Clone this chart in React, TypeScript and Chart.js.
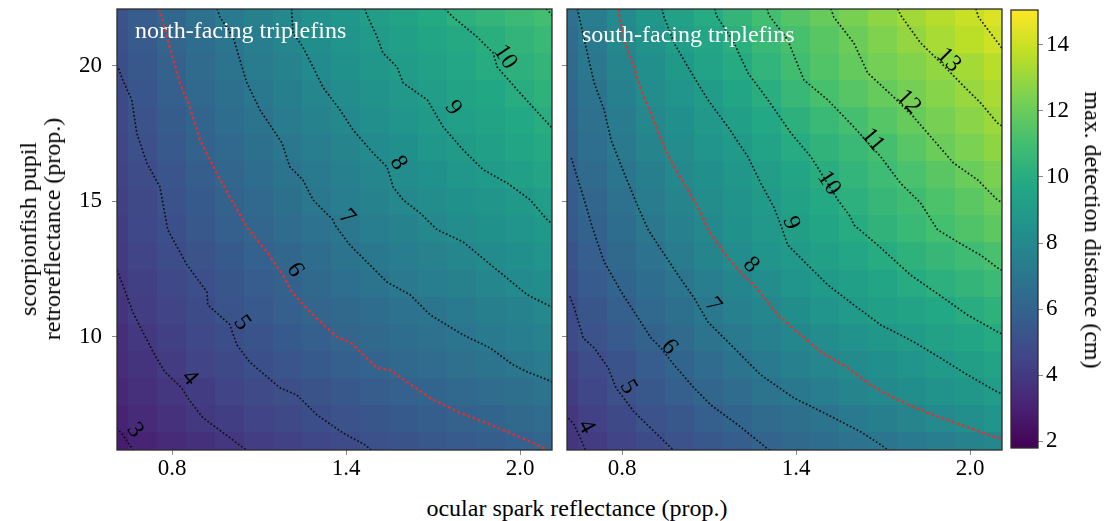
import React, { useEffect, useRef } from 'react';
import { Chart, registerables } from 'chart.js';

Chart.register(...registerables);

const FONT = '"Liberation Serif", "Times New Roman", serif';

// ---- grid of the heat maps (cell centres) ----
const xCenters = [0.6, 0.7, 0.8, 0.9, 1.0, 1.1, 1.2, 1.3, 1.4, 1.5, 1.6, 1.7, 1.8, 1.9, 2.0, 2.1];
const yCenters = [6, 7, 8, 9, 10, 11, 12, 13, 14, 15, 16, 17, 18, 19, 20, 21, 22];

// max. detection distance (cm), rows = yCenters (bottom to top), columns = xCenters
const northValues = [
  [2.84, 3.11, 3.37, 3.64, 3.91, 4.15, 4.38, 4.61, 4.84, 5.05, 5.22, 5.39, 5.56, 5.73, 5.90, 6.07],
  [3.06, 3.37, 3.67, 3.98, 4.22, 4.47, 4.71, 4.96, 5.16, 5.35, 5.54, 5.73, 5.92, 6.11, 6.30, 6.49],
  [3.29, 3.59, 3.88, 4.17, 4.45, 4.72, 5.00, 5.22, 5.44, 5.66, 5.88, 6.08, 6.26, 6.45, 6.63, 6.82],
  [3.45, 3.80, 4.13, 4.44, 4.76, 5.06, 5.30, 5.55, 5.80, 6.04, 6.24, 6.44, 6.65, 6.85, 7.05, 7.25],
  [3.60, 3.97, 4.30, 4.63, 4.96, 5.24, 5.53, 5.81, 6.07, 6.29, 6.52, 6.74, 6.96, 7.18, 7.40, 7.62],
  [3.75, 4.14, 4.50, 4.85, 5.18, 5.49, 5.79, 6.07, 6.31, 6.54, 6.77, 7.00, 7.23, 7.47, 7.70, 7.93],
  [3.90, 4.27, 4.64, 5.01, 5.34, 5.68, 6.01, 6.30, 6.58, 6.87, 7.13, 7.36, 7.59, 7.83, 8.06, 8.29],
  [4.08, 4.47, 4.87, 5.22, 5.55, 5.88, 6.21, 6.52, 6.84, 7.12, 7.37, 7.61, 7.85, 8.10, 8.36, 8.62],
  [4.17, 4.64, 5.06, 5.42, 5.78, 6.12, 6.44, 6.76, 7.07, 7.37, 7.67, 7.97, 8.21, 8.43, 8.66, 8.89],
  [4.23, 4.69, 5.14, 5.55, 5.97, 6.33, 6.68, 7.03, 7.35, 7.67, 7.95, 8.20, 8.45, 8.68, 8.91, 9.14],
  [4.35, 4.83, 5.30, 5.75, 6.16, 6.53, 6.90, 7.22, 7.54, 7.85, 8.15, 8.43, 8.72, 9.00, 9.27, 9.53],
  [4.56, 5.03, 5.50, 5.96, 6.33, 6.70, 7.05, 7.40, 7.74, 8.08, 8.39, 8.70, 9.01, 9.28, 9.55, 9.81],
  [4.65, 5.14, 5.63, 6.10, 6.50, 6.90, 7.27, 7.63, 8.00, 8.31, 8.62, 8.94, 9.22, 9.49, 9.77, 10.04],
  [4.74, 5.26, 5.79, 6.25, 6.68, 7.10, 7.48, 7.87, 8.21, 8.53, 8.85, 9.16, 9.44, 9.72, 10.00, 10.27],
  [4.95, 5.45, 5.95, 6.39, 6.83, 7.25, 7.66, 8.06, 8.40, 8.75, 9.08, 9.37, 9.66, 9.94, 10.21, 10.47],
  [5.05, 5.57, 6.07, 6.51, 6.95, 7.40, 7.86, 8.25, 8.61, 8.97, 9.26, 9.55, 9.83, 10.12, 10.41, 10.69],
  [5.16, 5.68, 6.21, 6.72, 7.18, 7.57, 7.96, 8.35, 8.74, 9.12, 9.48, 9.84, 10.16, 10.45, 10.74, 11.03],
];

const southValues = [
  [3.77, 4.11, 4.45, 4.80, 5.12, 5.43, 5.73, 6.03, 6.28, 6.52, 6.77, 7.01, 7.22, 7.43, 7.64, 7.85],
  [3.90, 4.31, 4.73, 5.12, 5.45, 5.78, 6.09, 6.36, 6.64, 6.91, 7.19, 7.47, 7.75, 8.04, 8.32, 8.60],
  [4.18, 4.62, 5.05, 5.42, 5.78, 6.14, 6.47, 6.81, 7.12, 7.42, 7.72, 8.01, 8.27, 8.52, 8.77, 9.03],
  [4.36, 4.82, 5.24, 5.67, 6.09, 6.48, 6.87, 7.21, 7.52, 7.83, 8.12, 8.39, 8.65, 8.92, 9.18, 9.44],
  [4.72, 5.15, 5.58, 6.01, 6.41, 6.81, 7.19, 7.55, 7.91, 8.22, 8.50, 8.79, 9.07, 9.34, 9.60, 9.87],
  [4.81, 5.32, 5.82, 6.27, 6.69, 7.11, 7.51, 7.91, 8.26, 8.59, 8.93, 9.21, 9.47, 9.73, 9.99, 10.26],
  [5.00, 5.56, 6.09, 6.52, 6.95, 7.38, 7.80, 8.21, 8.60, 8.98, 9.29, 9.60, 9.90, 10.19, 10.47, 10.75],
  [5.19, 5.80, 6.31, 6.78, 7.25, 7.72, 8.16, 8.57, 8.97, 9.29, 9.61, 9.93, 10.25, 10.56, 10.87, 11.18],
  [5.47, 6.00, 6.54, 7.06, 7.55, 8.02, 8.41, 8.80, 9.19, 9.57, 9.95, 10.32, 10.69, 11.05, 11.36, 11.68],
  [5.60, 6.17, 6.74, 7.26, 7.76, 8.19, 8.56, 8.94, 9.36, 9.79, 10.19, 10.55, 10.92, 11.28, 11.64, 12.00],
  [5.78, 6.35, 6.95, 7.49, 8.02, 8.39, 8.77, 9.16, 9.59, 10.02, 10.43, 10.84, 11.23, 11.62, 12.00, 12.38],
  [5.94, 6.56, 7.16, 7.74, 8.21, 8.59, 8.97, 9.43, 9.91, 10.32, 10.70, 11.11, 11.57, 12.02, 12.41, 12.80],
  [6.06, 6.71, 7.33, 7.94, 8.38, 8.80, 9.26, 9.75, 10.22, 10.67, 11.10, 11.52, 11.94, 12.32, 12.69, 13.05],
  [6.20, 6.89, 7.55, 8.14, 8.58, 9.04, 9.56, 10.08, 10.64, 11.14, 11.53, 11.92, 12.28, 12.64, 13.00, 13.33],
  [6.36, 7.07, 7.74, 8.33, 8.87, 9.38, 9.89, 10.42, 10.96, 11.42, 11.88, 12.24, 12.56, 12.88, 13.24, 13.62],
  [6.47, 7.23, 7.96, 8.56, 9.13, 9.63, 10.13, 10.65, 11.15, 11.60, 12.06, 12.49, 12.92, 13.31, 13.68, 14.06],
  [6.65, 7.37, 8.09, 8.75, 9.35, 9.91, 10.46, 11.00, 11.47, 11.93, 12.36, 12.79, 13.19, 13.58, 13.96, 14.33],
];

// ---- contour lines: [ocular spark reflectance, pupil retroreflectance] ----
const northLevels = [3, 4, 5, 6, 7, 8, 9, 10, 11];
const northPaths = [
  [[0.60, 6.75], [0.630, 6.39], [0.667, 5.80]],
  [[0.605, 12.6], [0.630, 11.92], [0.664, 10.92], [0.734, 9.45], [0.775, 8.71], [0.833, 8.12], [0.854, 7.75], [0.906, 7.02], [1.027, 6.06], [1.06, 5.80]],
  [[0.615, 19.9], [0.630, 19.47], [0.661, 18.74], [0.678, 17.52], [0.713, 16.41], [0.758, 15.53], [0.785, 13.95], [0.851, 12.66], [0.920, 11.66], [0.923, 11.18], [0.999, 10.45], [1.023, 9.71], [1.067, 9.08], [1.172, 8.12], [1.230, 7.86], [1.299, 7.13], [1.389, 6.46], [1.465, 6.02], [1.49, 5.80]],
  [[0.755, 22.1], [0.764, 21.79], [0.785, 20.95], [0.827, 19.36], [0.861, 18.48], [0.896, 17.26], [0.954, 16.04], [0.999, 15.16], [1.058, 14.05], [1.127, 13.13], [1.182, 12.28], [1.213, 11.66], [1.275, 10.92], [1.368, 10.0], [1.413, 9.82], [1.506, 8.86], [1.551, 8.78], [1.689, 7.75], [1.793, 7.20], [1.873, 6.87], [1.966, 6.46], [2.059, 6.02], [2.09, 5.85]],
  [[0.955, 22.1], [0.965, 21.79], [1.010, 21.06], [1.034, 20.21], [1.058, 19.36], [1.103, 18.37], [1.179, 17.15], [1.206, 16.27], [1.251, 15.79], [1.286, 15.05], [1.355, 14.31], [1.362, 14.12], [1.413, 13.39], [1.541, 12.02], [1.621, 11.55], [1.690, 10.81], [1.804, 10.07], [1.897, 9.59], [1.976, 8.97], [2.025, 8.71], [2.094, 8.42], [2.12, 8.30]],
  [[1.212, 22.1], [1.213, 21.87], [1.217, 21.21], [1.251, 20.69], [1.286, 19.95], [1.320, 19.21], [1.379, 18.37], [1.424, 17.63], [1.493, 16.78], [1.541, 16.27], [1.562, 15.53], [1.597, 15.05], [1.655, 14.57], [1.714, 13.95], [1.804, 13.50], [1.886, 12.77], [1.942, 12.28], [2.025, 11.55], [2.094, 11.18], [2.12, 11.05]],
  [[1.465, 22.1], [1.472, 21.87], [1.507, 21.06], [1.527, 20.47], [1.576, 19.95], [1.597, 19.36], [1.680, 18.74], [1.735, 17.74], [1.804, 16.89], [1.873, 16.16], [1.956, 15.67], [2.035, 15.05], [2.094, 14.31], [2.12, 14.10]],
  [[1.74, 22.1], [1.769, 21.79], [1.852, 21.06], [1.907, 20.47], [1.921, 19.95], [2.000, 18.99], [2.094, 17.89], [2.12, 17.60]],
  [[2.09, 22.1], [2.12, 21.75]],
];
const northLabelLevels = [3, 4, 5, 6, 7, 8, 9, 10];
const northLabelX = [0.672, 0.861, 1.041, 1.224, 1.403, 1.580, 1.769, 1.948];
const northLabelY = [6.56, 8.49, 10.52, 12.47, 14.42, 16.41, 18.44, 20.32];

const southLevels = [4, 5, 6, 7, 8, 9, 10, 11, 12, 13, 14];
const southPaths = [
  [[0.615, 7.0], [0.635, 6.76], [0.666, 6.02], [0.675, 5.80]],
  [[0.62, 11.5], [0.635, 11.07], [0.666, 9.96], [0.704, 9.59], [0.752, 8.86], [0.779, 8.12], [0.841, 7.24], [0.958, 6.02], [0.98, 5.80]],
  [[0.625, 16.6], [0.635, 16.23], [0.659, 15.42], [0.700, 13.95], [0.738, 12.77], [0.797, 11.66], [0.855, 10.70], [0.900, 9.96], [0.934, 9.59], [0.979, 8.97], [1.048, 8.12], [1.106, 7.49], [1.199, 6.76], [1.285, 6.02], [1.31, 5.80]],
  [[0.646, 22.1], [0.649, 21.94], [0.683, 20.32], [0.704, 19.36], [0.738, 18.37], [0.762, 17.26], [0.807, 16.04], [0.855, 14.79], [0.890, 13.95], [0.924, 13.39], [0.993, 12.28], [1.048, 11.44], [1.096, 10.55], [1.186, 9.59], [1.278, 8.60], [1.392, 7.75], [1.509, 7.13], [1.623, 6.50], [1.692, 6.02], [1.72, 5.80]],
  [[0.788, 22.1], [0.790, 21.87], [0.807, 20.95], [0.841, 19.95], [0.865, 19.10], [0.900, 18.26], [0.934, 17.26], [0.979, 16.27], [1.027, 15.42], [1.072, 14.57], [1.096, 13.95], [1.165, 12.91], [1.217, 12.28], [1.254, 11.92], [1.337, 10.81], [1.416, 10.07], [1.485, 9.45], [1.578, 8.86], [1.657, 8.23], [1.736, 7.75], [1.853, 7.20], [1.967, 6.76], [2.094, 6.28], [2.12, 6.20]],
  [[0.937, 22.1], [0.945, 21.79], [0.979, 20.84], [1.027, 19.95], [1.096, 18.74], [1.165, 17.74], [1.234, 16.64], [1.278, 15.67], [1.323, 14.79], [1.347, 14.13], [1.371, 13.39], [1.440, 12.65], [1.509, 11.92], [1.599, 11.18], [1.692, 10.44], [1.805, 9.82], [1.898, 9.22], [1.991, 8.60], [2.094, 7.97], [2.12, 7.85]],
  [[1.12, 22.1], [1.124, 21.87], [1.186, 20.84], [1.234, 19.73], [1.303, 18.74], [1.382, 17.52], [1.451, 16.64], [1.544, 15.05], [1.588, 14.42], [1.599, 14.13], [1.681, 13.39], [1.795, 12.28], [1.908, 11.44], [1.991, 10.81], [2.094, 10.19], [2.12, 10.05]],
  [[1.30, 22.1], [1.306, 21.87], [1.371, 20.95], [1.427, 19.47], [1.509, 18.74], [1.599, 17.74], [1.692, 16.64], [1.760, 15.67], [1.829, 14.94], [1.888, 13.95], [1.957, 13.50], [2.036, 13.02], [2.094, 12.55], [2.12, 12.40]],
  [[1.52, 22.1], [1.530, 21.79], [1.599, 20.84], [1.647, 19.73], [1.736, 18.85], [1.805, 18.11], [1.874, 17.26], [1.943, 16.41], [2.026, 15.79], [2.094, 15.05], [2.12, 14.90]],
  [[1.75, 22.1], [1.760, 21.87], [1.829, 20.84], [1.900, 20.10], [1.967, 19.36], [2.036, 18.63], [2.094, 17.89], [2.12, 17.70]],
  [[2.02, 22.1], [2.029, 21.79], [2.094, 20.87], [2.12, 20.50]],
];
const southLabelLevels = [4, 5, 6, 7, 8, 9, 10, 11, 12, 13];
const southLabelX = [0.676, 0.821, 0.962, 1.113, 1.244, 1.382, 1.513, 1.664, 1.788, 1.926];
const southLabelY = [6.69, 8.15, 9.63, 11.18, 12.65, 14.20, 15.67, 17.26, 18.66, 20.21];

// ---- axes ----
const xTicks = [0.8, 1.4, 2.0];
const yTicks = [10, 15, 20];
const colorTicks = [2, 4, 6, 8, 10, 12, 14];
const xRange = [0.61, 2.11];
const yRange = [5.83, 22.09];
const colorRange = [1.8, 15.05];

const VIRIDIS = ['#440154', '#482475', '#414487', '#355f8d', '#2a788e', '#21918c', '#22a884', '#44bf70', '#7ad151', '#bddf26', '#fde725'];

function hexToRgb(h: string) {
  return [parseInt(h.slice(1, 3), 16), parseInt(h.slice(3, 5), 16), parseInt(h.slice(5, 7), 16)];
}
const VIRIDIS_RGB = VIRIDIS.map(hexToRgb);

function viridis(v: number) {
  let t = (v - colorRange[0]) / (colorRange[1] - colorRange[0]);
  t = Math.max(0, Math.min(1, t));
  const s = t * (VIRIDIS_RGB.length - 1);
  const i = Math.min(Math.floor(s), VIRIDIS_RGB.length - 2);
  const f = s - i;
  const a = VIRIDIS_RGB[i], b = VIRIDIS_RGB[i + 1];
  const c = a.map((av, k) => Math.round(av + (b[k] - av) * f));
  return `rgb(${c[0]},${c[1]},${c[2]})`;
}

function makeHeatmapPlugin(values: number[][]) {
  return {
    id: 'heatmap',
    beforeDatasetsDraw(chart: any) {
      const { ctx, chartArea } = chart;
      const xs = chart.scales.x, ys = chart.scales.y;
      const hx = (xCenters[1] - xCenters[0]) / 2;
      const hy = (yCenters[1] - yCenters[0]) / 2;
      ctx.save();
      ctx.beginPath();
      ctx.rect(chartArea.left, chartArea.top, chartArea.right - chartArea.left, chartArea.bottom - chartArea.top);
      ctx.clip();
      for (let j = 0; j < yCenters.length; j++) {
        for (let i = 0; i < xCenters.length; i++) {
          const x0 = Math.floor(xs.getPixelForValue(xCenters[i] - hx));
          const x1 = Math.ceil(xs.getPixelForValue(xCenters[i] + hx));
          const y0 = Math.floor(ys.getPixelForValue(yCenters[j] + hy));
          const y1 = Math.ceil(ys.getPixelForValue(yCenters[j] - hy));
          ctx.fillStyle = viridis(values[j][i]);
          ctx.fillRect(x0, y0, x1 - x0, y1 - y0);
        }
      }
      ctx.restore();
    },
  };
}

function labelAngle(path: number[][], lx: number, ly: number, xs: any, ys: any) {
  const px = xs.getPixelForValue(lx), py = ys.getPixelForValue(ly);
  let best = Infinity, bi = 0;
  const pts = path.map(([x, y]) => [xs.getPixelForValue(x), ys.getPixelForValue(y)]);
  pts.forEach(([x, y], i) => {
    const d = (x - px) ** 2 + (y - py) ** 2;
    if (d < best) { best = d; bi = i; }
  });
  const a = pts[Math.max(0, bi - 1)], b = pts[Math.min(pts.length - 1, bi + 1)];
  let ang = Math.atan2(b[1] - a[1], b[0] - a[0]);
  if (ang > Math.PI / 2) ang -= Math.PI;
  if (ang < -Math.PI / 2) ang += Math.PI;
  return ang;
}

function makeOverlayPlugin(title: string, tx: number, ty: number, levels: number[], paths: number[][][], labLevels: number[], labX: number[], labY: number[]) {
  return {
    id: 'overlay',
    afterDatasetsDraw(chart: any) {
      const { ctx, chartArea } = chart;
      const xs = chart.scales.x, ys = chart.scales.y;
      ctx.save();
      // contour labels
      ctx.fillStyle = '#000';
      ctx.font = `24px ${FONT}`;
      ctx.textAlign = 'center';
      ctx.textBaseline = 'middle';
      labLevels.forEach((lev, k) => {
        const path = paths[levels.indexOf(lev)];
        const ang = labelAngle(path, labX[k], labY[k], xs, ys);
        ctx.save();
        ctx.translate(xs.getPixelForValue(labX[k]), ys.getPixelForValue(labY[k]));
        ctx.rotate(ang);
        ctx.fillText(String(lev), 0, 0);
        ctx.restore();
      });
      // panel title
      ctx.fillStyle = '#ffffff';
      ctx.font = `24px ${FONT}`;
      ctx.textAlign = 'left';
      ctx.textBaseline = 'alphabetic';
      ctx.fillText(title, chartArea.left + tx, chartArea.top + ty);
      // frame
      ctx.strokeStyle = '#2b2b2b';
      ctx.lineWidth = 1.3;
      ctx.strokeRect(chartArea.left, chartArea.top, chartArea.right - chartArea.left, chartArea.bottom - chartArea.top);
      ctx.restore();
    },
  };
}

const tickFont = { family: FONT, size: 23 };
const tickGrid = { display: true, drawOnChartArea: false, drawTicks: true, tickLength: 5, color: '#8a8a8a', lineWidth: 1 };

function noPad(s: any) {
  s.paddingTop = 0;
  s.paddingBottom = 0;
  s.paddingLeft = 0;
  s.paddingRight = 0;
}

function panelConfig(opts: {
  values: number[][]; levels: number[]; paths: number[][][]; red: number;
  labLevels: number[]; labX: number[]; labY: number[];
  title: string; tx: number; ty: number; showY: boolean; yWidth: number; padRight: number;
}) {
  const datasets = opts.paths.map((p, k) => {
    const isRed = opts.levels[k] === opts.red;
    return {
      data: p.map(([x, y]) => ({ x, y })),
      showLine: true,
      borderColor: isRed ? '#ee2b2b' : 'rgba(10,10,10,0.9)',
      borderWidth: isRed ? 2.3 : 1.7,
      borderDash: isRed ? [2.6, 2.8] : [1.7, 2.1],
      pointRadius: 0,
      pointHoverRadius: 0,
      tension: 0,
      fill: false,
    };
  });
  return {
    type: 'scatter' as const,
    data: { datasets },
    plugins: [
      makeHeatmapPlugin(opts.values),
      makeOverlayPlugin(opts.title, opts.tx, opts.ty, opts.levels, opts.paths, opts.labLevels, opts.labX, opts.labY),
    ],
    options: {
      animation: false as const,
      responsive: false,
      devicePixelRatio: 1,
      events: [],
      layout: { padding: { left: 0, top: 9, right: opts.padRight, bottom: 0 } },
      plugins: { legend: { display: false }, tooltip: { enabled: false } },
      scales: {
        x: {
          type: 'linear' as const,
          min: xRange[0], max: xRange[1],
          afterBuildTicks: (s: any) => { s.ticks = xTicks.map((v) => ({ value: v })); },
          afterFit: (s: any) => { s.height = 30; noPad(s); },
          ticks: { callback: (v: any) => Number(v).toFixed(1), font: tickFont, color: '#000', padding: 0, maxRotation: 0, autoSkip: false },
          grid: tickGrid,
          border: { display: false },
        },
        y: {
          type: 'linear' as const,
          min: yRange[0], max: yRange[1],
          afterBuildTicks: (s: any) => { s.ticks = yTicks.map((v) => ({ value: v })); },
          afterFit: (s: any) => { s.width = opts.yWidth; noPad(s); },
          ticks: { display: opts.showY, callback: (v: any) => String(v), font: tickFont, color: '#000', padding: 10, autoSkip: false },
          grid: tickGrid,
          border: { display: false },
        },
      },
    },
  };
}

function colorbarConfig() {
  const gradientPlugin = {
    id: 'colorbar',
    beforeDatasetsDraw(chart: any) {
      const { ctx, chartArea } = chart;
      const ys = chart.scales.y;
      const yb = ys.getPixelForValue(colorRange[0]);
      const yt = ys.getPixelForValue(colorRange[1]);
      const g = ctx.createLinearGradient(0, yb, 0, yt);
      VIRIDIS.forEach((c, i) => g.addColorStop(i / (VIRIDIS.length - 1), c));
      ctx.save();
      ctx.fillStyle = g;
      ctx.fillRect(chartArea.left, yt, chartArea.right - chartArea.left, yb - yt);
      ctx.strokeStyle = '#2b2b2b';
      ctx.lineWidth = 1.3;
      ctx.strokeRect(chartArea.left, chartArea.top, chartArea.right - chartArea.left, chartArea.bottom - chartArea.top);
      ctx.restore();
    },
  };
  return {
    type: 'scatter' as const,
    data: { datasets: [] },
    plugins: [gradientPlugin],
    options: {
      animation: false as const,
      responsive: false,
      devicePixelRatio: 1,
      events: [],
      layout: { padding: { left: 6, top: 10, right: 0, bottom: 32 } },
      plugins: { legend: { display: false }, tooltip: { enabled: false } },
      scales: {
        x: { type: 'linear' as const, display: false, min: 0, max: 1 },
        y: {
          type: 'linear' as const,
          position: 'right' as const,
          min: colorRange[0], max: colorRange[1],
          afterBuildTicks: (s: any) => { s.ticks = colorTicks.map((v) => ({ value: v })); },
          afterFit: (s: any) => { s.width = 71; noPad(s); },
          ticks: { callback: (v: any) => String(v), font: tickFont, color: '#000', padding: 3, autoSkip: false },
          grid: tickGrid,
          border: { display: false },
        },
      },
    },
  };
}

export default function App() {
  const leftRef = useRef<HTMLCanvasElement>(null);
  const rightRef = useRef<HTMLCanvasElement>(null);
  const cbRef = useRef<HTMLCanvasElement>(null);

  useEffect(() => {
    const charts = [
      new Chart(leftRef.current as HTMLCanvasElement, panelConfig({
        values: northValues, levels: northLevels, paths: northPaths, red: 6,
        labLevels: northLabelLevels, labX: northLabelX, labY: northLabelY,
        title: 'north-facing triplefins', tx: 18, ty: 29, showY: true, yWidth: 117, padRight: 8,
      }) as any),
      new Chart(rightRef.current as HTMLCanvasElement, panelConfig({
        values: southValues, levels: southLevels, paths: southPaths, red: 8,
        labLevels: southLabelLevels, labX: southLabelX, labY: southLabelY,
        title: 'south-facing triplefins', tx: 15, ty: 33, showY: false, yWidth: 7, padRight: 8,
      }) as any),
      new Chart(cbRef.current as HTMLCanvasElement, colorbarConfig() as any),
    ];
    return () => charts.forEach((c) => c.destroy());
  }, []);

  const textStyle: React.CSSProperties = {
    position: 'absolute',
    fontFamily: FONT,
    fontSize: 24,
    color: '#000',
    whiteSpace: 'nowrap',
    textAlign: 'center',
  };

  return (
    <div style={{ position: 'absolute', left: 0, top: 0, width: 1109, height: 521, background: '#ffffff', overflow: 'hidden' }}>
      <canvas ref={leftRef} width={560} height={480} style={{ position: 'absolute', left: 0, top: 0 }} />
      <canvas ref={rightRef} width={450} height={480} style={{ position: 'absolute', left: 560, top: 0 }} />
      <canvas ref={cbRef} width={104} height={480} style={{ position: 'absolute', left: 1005, top: 0 }} />
      <div style={{ ...textStyle, left: 40, top: 229, lineHeight: '24px', transform: 'translate(-50%, -50%) rotate(-90deg)' }}>
        scorpionfish pupil<br />retroreflectance (prop.)
      </div>
      <div style={{ ...textStyle, left: 577, top: 508, lineHeight: '24px', transform: 'translate(-50%, -50%)' }}>
        ocular spark reflectance (prop.)
      </div>
      <div style={{ ...textStyle, left: 1093, top: 230, lineHeight: '24px', transform: 'translate(-50%, -50%) rotate(90deg)' }}>
        max. detection distance (cm)
      </div>
    </div>
  );
}
